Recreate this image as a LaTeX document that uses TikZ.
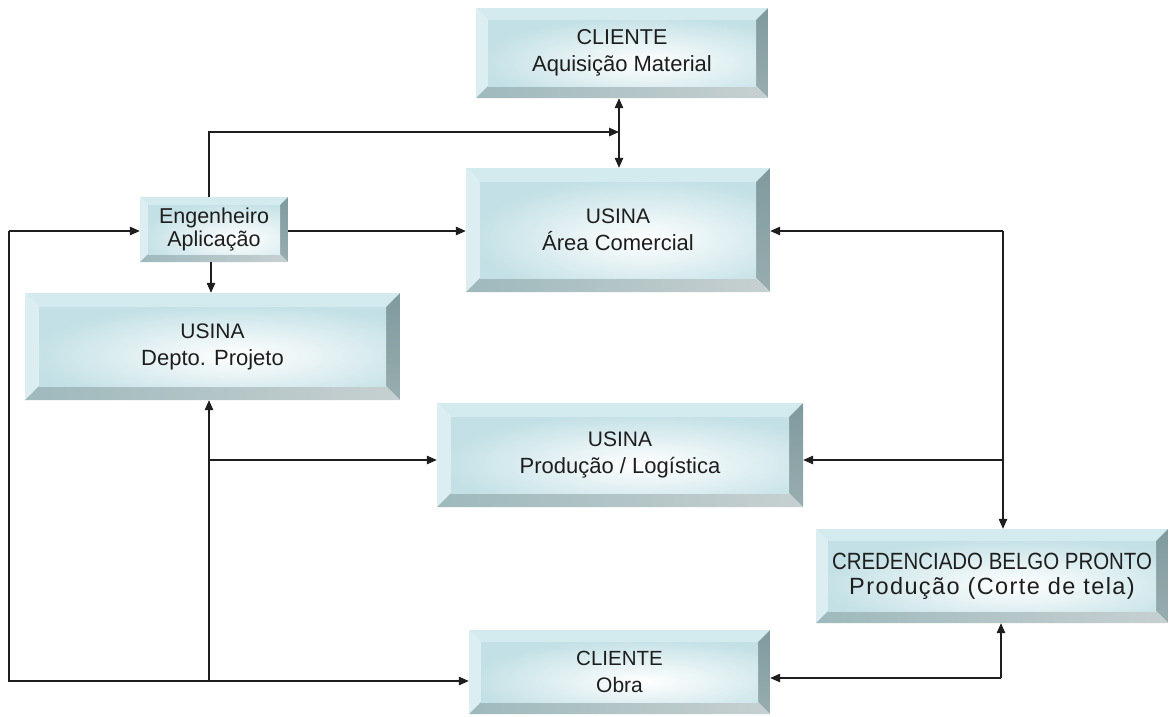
\documentclass[tikz,border=0pt]{standalone}
\usepackage{fontspec}
\setmainfont{Liberation Sans}
\usetikzlibrary{arrows.meta}
\definecolor{face}{HTML}{C2E0E5}
\definecolor{bevtop}{HTML}{D3EBEE}
\definecolor{bevleft}{HTML}{DCEEF1}
\definecolor{bevright}{HTML}{7F9A9D}
\definecolor{bevrightb}{HTML}{98ADAF}
\definecolor{bevbot}{HTML}{9EB9BC}
\definecolor{bevbotr}{HTML}{C7D0D1}
\definecolor{ink}{HTML}{1E1E1E}
\newcommand\fs[1]{\fontsize{#1}{27}\selectfont}
\newcommand\bevelfill[1]{%
  \path (path picture bounding box.north west) coordinate (bNW)
        (path picture bounding box.north east) coordinate (bNE)
        (path picture bounding box.south west) coordinate (bSW)
        (path picture bounding box.south east) coordinate (bSE);
  \path ([xshift=#1,yshift=-#1]bNW) coordinate (iNW)
        ([xshift=-#1,yshift=-#1]bNE) coordinate (iNE)
        ([xshift=#1,yshift=#1]bSW) coordinate (iSW)
        ([xshift=-#1,yshift=#1]bSE) coordinate (iSE);
  \fill[bevtop] (bNW) -- (bNE) -- (iNE) -- (iNW) -- cycle;
  \fill[bevleft] (bNW) -- (iNW) -- (iSW) -- (bSW) -- cycle;
  \shade[top color=bevright, bottom color=bevrightb] (bNE) -- (bSE) -- (iSE) -- (iNE) -- cycle;
  \shade[left color=bevbot, right color=bevbotr] (bSW) -- (iSW) -- (iSE) -- (bSE) -- cycle;
  \begin{scope}
    \clip (iNW) rectangle (iSE);
    \fill[face] (iNW) rectangle (iSE);
    \shade[inner color=white, outer color=face] ([xshift=-10pt,yshift=4pt]iNW) rectangle ([xshift=60pt,yshift=-22pt]iSE);
  \end{scope}
}
\tikzset{
  bevbox/.style={inner sep=0pt, align=center, text=ink,
    font=\fontsize{21}{27}\selectfont, path picture={\bevelfill{#1}}},
  arr/.style={draw=ink, line width=1.2pt, -{Triangle[length=10pt,width=8.5pt]}},
  darr/.style={draw=ink, line width=1.2pt, {Triangle[length=10pt,width=8.5pt]}-{Triangle[length=10pt,width=8.5pt]}},
  ln/.style={draw=ink, line width=1.2pt}
}
\begin{document}
\begin{tikzpicture}[x=1pt,y=-1pt]
\fill[white] (0,0) rectangle (1170,716);
\useasboundingbox (0,0) rectangle (1170,716);

\node[bevbox=12pt, minimum width=292pt, minimum height=90pt] (cli) at (622,53) {\fs{21.5}CLIENTE\\\fs{22}Aquisição Material};
\node[bevbox=8pt, minimum width=148pt, minimum height=65pt, font=\fontsize{21.5}{22.5}\selectfont] (eng) at (214,229.5) {Engenheiro\\Aplicação};
\node[bevbox=14pt, minimum width=304pt, minimum height=124pt] (com) at (618,230) {\fs{21}USINA\\\fs{22}Área Comercial};
\node[bevbox=14pt, minimum width=375pt, minimum height=107pt] (depto) at (212.5,346.5) {\fs{21}USINA\\\fs{22}Depto. Projeto};
\node[bevbox=14pt, minimum width=366pt, minimum height=104pt] (prod) at (620,455) {\fs{21}USINA\\\fs{22}Produção / Logística};
\node[bevbox=12pt, minimum width=352pt, minimum height=94pt, font=\fontsize{23.5}{25}\selectfont] (cred) at (992,576) {\scalebox{0.87}[1]{CREDENCIADO BELGO PRONTO}\\\addfontfeature{LetterSpace=6}Produção (Corte de tela)};
\node[bevbox=12pt, minimum width=301pt, minimum height=84pt] (obra) at (619.5,672) {\fs{20.5}CLIENTE\\\fs{21}Obra};

% junction coordinates
\coordinate (j1) at (619,132);
\coordinate (lt) at (9,231);
\coordinate (lb) at (9,681);
\coordinate (jb) at (209,681);
\coordinate (jm) at (209,460);
\coordinate (rt) at (1003,231);
\coordinate (rm) at (1003,460);
\coordinate (rb) at (1001,678);

% top double arrow
\draw[darr] (cli.south -| j1) -- (com.north -| j1);
\draw[arr] ([xshift=-5pt]eng.north) |- (j1);
% engineer to commercial
\draw[arr] (eng.east |- lt) -- (com.west |- lt);
% engineer to project
\draw[arr] ([xshift=-3pt]eng.south) -- ([xshift=-3pt]eng.south |- depto.north);
% left loop
\draw[arr] (lt) -- (eng.west |- lt);
\draw[arr] (lt) -- (lb) -- (obra.west |- lb);
\draw[arr] (jb) -- (depto.south -| jb);
\draw[arr] (jm) -- (prod.west |- jm);
% right side
\draw[arr] (rt) -- (com.east |- rt);
\draw[arr] (rt) -- (rt |- cred.north);
\draw[arr] (rm) -- (prod.east |- rm);
% bottom right
\draw[arr] (rb) -- (rb |- cred.south);
\draw[arr] (rb) -- (obra.east |- rb);
\end{tikzpicture}
\end{document}
